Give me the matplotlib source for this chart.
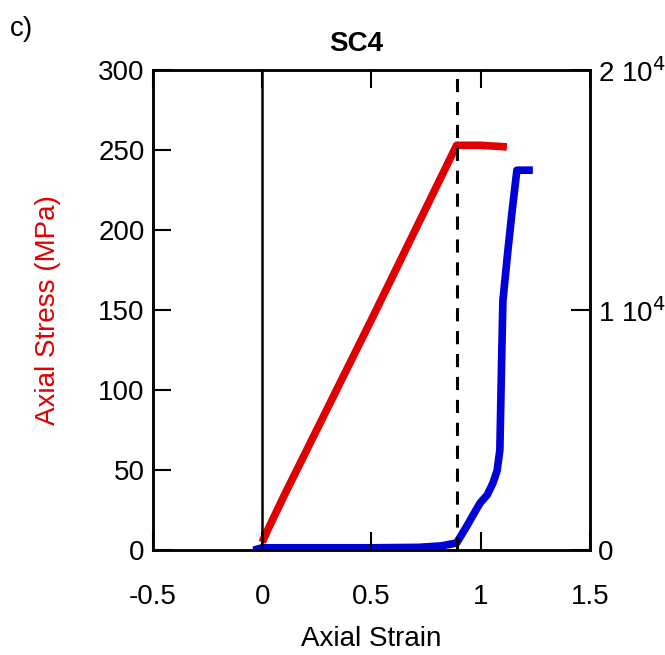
import matplotlib
matplotlib.use("Agg")
import matplotlib.pyplot as plt
import numpy as np

plt.rcParams['font.family'] = ['Liberation Sans', 'DejaVu Sans']

# Stress (left axis, MPa)
stress_strain = [0.0, 0.03, 0.10, 0.50, 0.89, 1.00, 1.12]
stress_values = [5, 14, 34, 144, 253, 253, 252]

# Right axis series
ae_strain = [-0.04, 0.0, 0.20, 0.50, 0.72, 0.82, 0.89, 0.93, 0.997, 1.03, 1.056, 1.075,
             1.088, 1.097, 1.102, 1.125, 1.145, 1.166, 1.239]
ae_values = [0, 100, 100, 100, 120, 180, 300, 900, 1960, 2300, 2790, 3300,
             4170, 8330, 10400, 12500, 14200, 15830, 15830]

dashed_x = 0.89

fig = plt.figure(figsize=(6.65, 6.55), dpi=100)
ax = fig.add_axes([0.230, 0.160, 0.657, 0.733])
ax2 = ax.twinx()
ax.set_zorder(ax2.get_zorder() + 1)
ax.patch.set_visible(False)

ax.plot(stress_strain, stress_values, color='#e00000', lw=5.5, solid_capstyle='butt',
        solid_joinstyle='round', zorder=3)
ax.axvline(0, color='black', lw=1.8, zorder=4)
ax.axvline(dashed_x, color='black', lw=2.2, ls=(0, (4.3, 3.2)), zorder=4)

ax.set_xlim(-0.5, 1.5)
ax.set_ylim(0, 300)
ax.set_xticks([-0.5, 0, 0.5, 1, 1.5])
ax.set_xticklabels(['-0.5', '0', '0.5', '1', '1.5'])
ax.set_yticks([0, 50, 100, 150, 200, 250, 300])
ax.tick_params(axis='both', direction='in', length=13, width=1.5, labelsize=20, colors='black')
ax.tick_params(axis='x', top=True, pad=24)
ax.tick_params(axis='y', pad=6)
for s in ax.spines.values():
    s.set_linewidth(1.8)

ax.set_xlabel('Axial Strain', fontsize=20, labelpad=12)
ax.set_ylabel('Axial Stress (MPa)', fontsize=20, color='#e00000', labelpad=27)
ax.set_title('SC4', fontsize=20, fontweight='bold', pad=14)
ax.title.set_x(0.465)

ax2.plot(ae_strain, ae_values, color='#0000d8', lw=5.5, solid_capstyle='butt',
         solid_joinstyle='round', zorder=3)
ax2.set_ylim(0, 20000)
ax2.set_yticks([0, 10000, 20000])
ax2.set_yticklabels(['0', r'1 10$^{4}$', r'2 10$^{4}$'])
ax2.tick_params(axis='y', direction='in', length=14, width=1.5, labelsize=20, pad=6)
for s in ax2.spines.values():
    s.set_linewidth(1.8)

fig.text(0.015, 0.975, 'c)', fontsize=20, ha='left', va='top')

fig.savefig('out.png', dpi=100)
